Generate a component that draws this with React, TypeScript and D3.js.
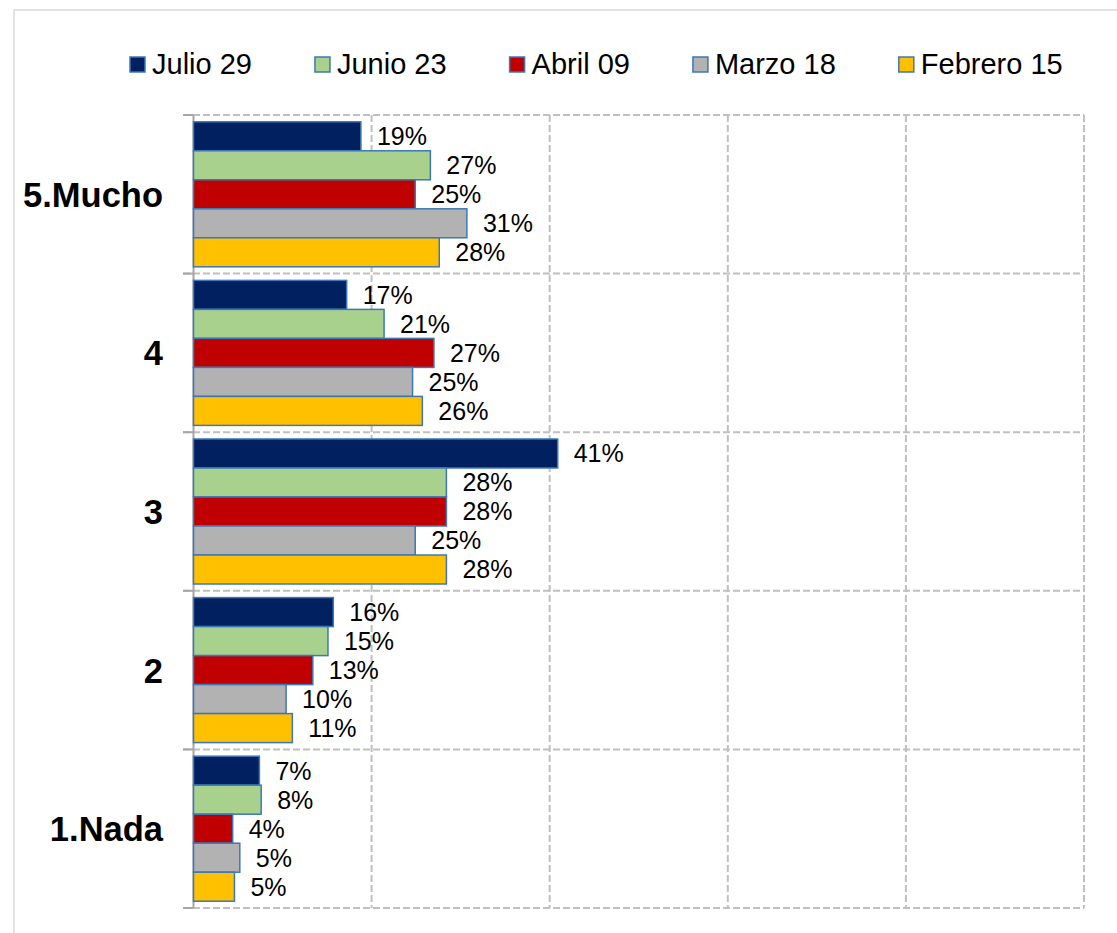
import React from "react";
import * as d3 from "d3";

const categories = ["5.Mucho", "4", "3", "2", "1.Nada"];
const seriesNames = ["Julio 29", "Junio 23", "Abril 09", "Marzo 18", "Febrero 15"];
const julio = [18.8, 17.2, 40.9, 15.7, 7.4];
const junio = [26.6, 21.4, 28.4, 15.1, 7.6];
const abril = [24.9, 27.0, 28.4, 13.4, 4.4];
const marzo = [30.7, 24.6, 24.9, 10.4, 5.2];
const febrero = [27.6, 25.7, 28.4, 11.1, 4.6];
const seriesValues = [julio, junio, abril, marzo, febrero];
const seriesColors = ["#002060", "#A9D18E", "#C00000", "#B2B2B2", "#FFC000"];
const xTicks = [0, 20, 40, 60, 80, 100];

const W = 1117;
const H = 933;
const FONT = "'Liberation Sans', Arial, Helvetica, sans-serif";

function measure(text: string, font: string): number {
  try {
    const c = document.createElement("canvas");
    const ctx = c.getContext("2d");
    if (ctx) {
      ctx.font = font;
      return ctx.measureText(text).width;
    }
  } catch (e) {}
  return text.length * 14;
}

export default function App() {
  const plotLeft = 193.5;
  const plotRight = 1084;
  const plotTop = 115;
  const plotBottom = 908;

  const x = d3.scaleLinear().domain([0, 100]).range([plotLeft, plotRight]);
  const y = d3.scaleBand<string>().domain(categories).range([plotTop, plotBottom]).padding(0);
  const bw = y.bandwidth();
  const inner = d3
    .scaleBand<string>()
    .domain(seriesNames)
    .range([0, bw])
    .paddingInner(0)
    .paddingOuter(0.234);

  const fmt = (v: number) => `${Math.round(v)}%`;
  const gridColor = "#C0C0C0";
  const stroke = "#3C78B8";

  const legendFont = `29px ${FONT}`;
  let cursor = 130;
  const legendItems = seriesNames.map((name, i) => {
    const sx = cursor;
    const tx = sx + 22;
    const tw = measure(name, legendFont);
    cursor = tx + tw + 63;
    return { name, sx, tx, color: seriesColors[i] };
  });

  const boundaries = categories.map((c) => y(c) as number).concat([plotBottom]);

  return (
    <svg
      width={W}
      height={H}
      style={{ position: "absolute", left: 0, top: 0, background: "#fff" }}
      fontFamily={FONT}
    >
      <rect x={0} y={0} width={W} height={H} fill="#fff" />
      <rect x={14} y={10} width={1130} height={960} fill="#fff" stroke="#D9D9D9" strokeWidth={1.5} />

      {xTicks.slice(1).map((t) => (
        <line
          key={"vg" + t}
          x1={x(t)}
          x2={x(t)}
          y1={plotTop}
          y2={plotBottom}
          stroke={gridColor}
          strokeWidth={2}
          strokeDasharray="7,3"
        />
      ))}
      {boundaries.map((b, i) => (
        <line
          key={"hg" + i}
          x1={183}
          x2={plotRight}
          y1={b}
          y2={b}
          stroke={gridColor}
          strokeWidth={2}
          strokeDasharray="7,3"
        />
      ))}
      <line x1={plotLeft} x2={plotLeft} y1={plotTop} y2={plotBottom} stroke="#A6A6A6" strokeWidth={2} />
      {boundaries.map((b, i) => (
        <line key={"tk" + i} x1={183} x2={plotLeft} y1={b} y2={b} stroke="#A6A6A6" strokeWidth={2} />
      ))}

      {categories.map((cat, ci) => (
        <g key={cat} transform={`translate(0,${y(cat)})`}>
          {seriesNames.map((s, si) => {
            const v = seriesValues[si][ci];
            const yy = inner(s) as number;
            return (
              <g key={s}>
                <rect
                  x={plotLeft}
                  y={yy}
                  width={x(v) - plotLeft}
                  height={inner.bandwidth()}
                  fill={seriesColors[si]}
                  stroke={stroke}
                  strokeWidth={1.5}
                />
                <text
                  x={x(v) + 16}
                  y={yy + inner.bandwidth() / 2}
                  dy="0.36em"
                  fontSize={25}
                  fill="#000"
                >
                  {fmt(v)}
                </text>
              </g>
            );
          })}
        </g>
      ))}

      {categories.map((cat) => (
        <text
          key={"cl" + cat}
          x={163}
          y={(y(cat) as number) + bw / 2}
          dy="0.36em"
          textAnchor="end"
          fontSize={34.5}
          fontWeight="bold"
          fill="#000"
        >
          {cat}
        </text>
      ))}

      {legendItems.map((it) => (
        <g key={"lg" + it.name}>
          <rect x={it.sx} y={57} width={15} height={15} fill={it.color} stroke={stroke} strokeWidth={1.5} />
          <text x={it.tx} y={74} fontSize={29} fill="#000">
            {it.name}
          </text>
        </g>
      ))}
    </svg>
  );
}
